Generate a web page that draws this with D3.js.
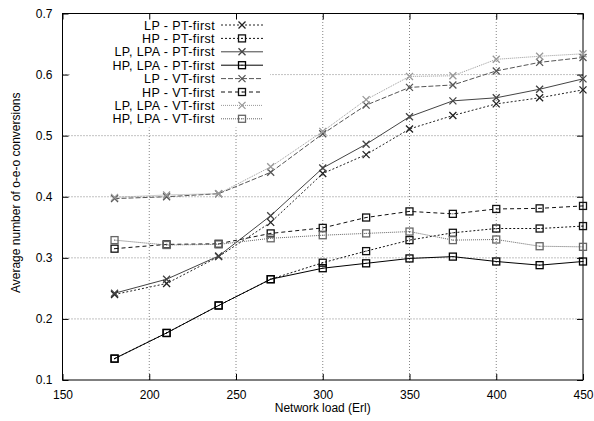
<!DOCTYPE html>
<html>
<head>
<meta charset="utf-8">
<script src="https://cdn.jsdelivr.net/npm/d3@7"></script>
<style>
  body { margin: 0; background: #fff; }
  svg { display: block; font-family: "Liberation Sans", Arial, sans-serif; }
</style>
</head>
<body>
<div id="chart"></div>
<script>
const loads = [180, 210, 240, 270, 300, 325, 350, 375, 400, 425, 450];

const lpPT = [0.240, 0.258, 0.302, 0.358, 0.438, 0.469, 0.511, 0.533, 0.552, 0.562, 0.575];
const hpPT = [0.135, 0.177, 0.222, 0.265, 0.292, 0.311, 0.329, 0.341, 0.348, 0.348, 0.352];
const lpLpaPT = [0.242, 0.265, 0.303, 0.369, 0.447, 0.486, 0.531, 0.557, 0.562, 0.576, 0.593];
const hpLpaPT = [0.135, 0.177, 0.222, 0.265, 0.283, 0.291, 0.299, 0.302, 0.294, 0.288, 0.294];
const lpVT = [0.397, 0.400, 0.405, 0.440, 0.503, 0.550, 0.579, 0.583, 0.606, 0.620, 0.628];
const hpVT = [0.315, 0.322, 0.323, 0.340, 0.349, 0.366, 0.376, 0.372, 0.380, 0.381, 0.385];
const lpLpaVT = [0.399, 0.403, 0.405, 0.449, 0.507, 0.559, 0.597, 0.598, 0.625, 0.630, 0.634];
const hpLpaVT = [0.329, 0.321, 0.322, 0.332, 0.337, 0.340, 0.343, 0.329, 0.330, 0.319, 0.318];

const xTicks = [150, 200, 250, 300, 350, 400, 450];
const yTicks = [0.1, 0.2, 0.3, 0.4, 0.5, 0.6, 0.7];

const series = [
  { name: "LP - PT-first", values: lpPT, marker: "x", color: "#222", dash: "2,2" },
  { name: "HP - PT-first", values: hpPT, marker: "sq", color: "#111", dash: "2,2" },
  { name: "LP, LPA - PT-first", values: lpLpaPT, marker: "x", color: "#444", dash: null },
  { name: "HP, LPA - PT-first", values: hpLpaPT, marker: "sq", color: "#000", dash: null },
  { name: "LP - VT-first", values: lpVT, marker: "x", color: "#555", dash: "5,2" },
  { name: "HP - VT-first", values: hpVT, marker: "sq", color: "#111", dash: "4,3" },
  { name: "LP, LPA - VT-first", values: lpLpaVT, marker: "x", color: "#999", dash: "1,1" },
  { name: "HP, LPA - VT-first", values: hpLpaVT, marker: "sq", color: "#666", dash: "1,1" }
];

const width = 594, height = 421;
const margin = { top: 13.5, right: 11, bottom: 41, left: 62.5 };

const svg = d3.select("#chart").append("svg")
    .attr("width", width)
    .attr("height", height);

const x = d3.scaleLinear().domain([150, 450]).range([margin.left, width - margin.right]);
const y = d3.scaleLinear().domain([0.1, 0.7]).range([height - margin.bottom, margin.top]);

// grid
const grid = svg.append("g")
    .attr("stroke", "#666")
    .attr("stroke-width", 0.8)
    .attr("stroke-dasharray", "1,2");
grid.selectAll("line.vx").data(xTicks.slice(1, -1)).enter().append("line")
    .attr("x1", d => x(d)).attr("x2", d => x(d))
    .attr("y1", y(0.1)).attr("y2", y(0.7));
grid.selectAll("line.hy").data(yTicks.slice(1, -1)).enter().append("line")
    .attr("x1", x(150)).attr("x2", x(450))
    .attr("y1", d => y(d)).attr("y2", d => y(d));

// legend box masks grid
svg.append("rect")
    .attr("x", 70).attr("y", margin.top + 1)
    .attr("width", 200).attr("height", 113)
    .attr("fill", "#fff");

// axes with inward ticks, mirrored
const fmtY = d3.format(".1f");
svg.append("g")
    .attr("transform", `translate(0,${y(0.1)})`)
    .call(d3.axisBottom(x).tickValues(xTicks).tickSize(-6).tickPadding(10))
    .call(g => g.select(".domain").remove());
svg.append("g")
    .attr("transform", `translate(0,${y(0.7)})`)
    .call(d3.axisTop(x).tickValues(xTicks).tickSize(-6).tickFormat(""))
    .call(g => g.select(".domain").remove());
svg.append("g")
    .attr("transform", `translate(${x(150)},0)`)
    .call(d3.axisLeft(y).tickValues(yTicks).tickSize(-6).tickPadding(10).tickFormat(fmtY))
    .call(g => g.select(".domain").remove());
svg.append("g")
    .attr("transform", `translate(${x(450)},0)`)
    .call(d3.axisRight(y).tickValues(yTicks).tickSize(-6).tickFormat(""))
    .call(g => g.select(".domain").remove());

svg.selectAll(".tick text")
    .attr("font-size", 12)
    .attr("font-family", "Liberation Sans, Arial, sans-serif")
    .attr("fill", "#000");
svg.selectAll(".tick line").attr("stroke", "#000");

svg.append("rect")
    .attr("x", x(150)).attr("y", y(0.7))
    .attr("width", x(450) - x(150)).attr("height", y(0.1) - y(0.7))
    .attr("fill", "none").attr("stroke", "#000").attr("stroke-width", 1);

// titles
svg.append("text")
    .attr("x", (x(150) + x(450)) / 2).attr("y", 412)
    .attr("text-anchor", "middle").attr("font-size", 12)
    .text("Network load (Erl)");
svg.append("text")
    .attr("transform", `translate(20,${(y(0.1) + y(0.7)) / 2 - 4}) rotate(-90)`)
    .attr("text-anchor", "middle").attr("font-size", 12)
    .text("Average number of o-e-o conversions");

function drawMarker(g, type, cx, cy, color) {
  const s = 3.5;
  if (type === "x") {
    g.append("path")
        .attr("d", `M${cx - s},${cy - s}L${cx + s},${cy + s}M${cx - s},${cy + s}L${cx + s},${cy - s}`)
        .attr("stroke", color).attr("stroke-width", 1.3).attr("fill", "none");
  } else {
    g.append("rect")
        .attr("x", cx - s).attr("y", cy - s).attr("width", 2 * s).attr("height", 2 * s)
        .attr("stroke", color).attr("stroke-width", 1.3).attr("fill", "none");
    g.append("rect")
        .attr("x", cx - 0.5).attr("y", cy - 0.5).attr("width", 1).attr("height", 1)
        .attr("fill", color);
  }
}

const line = d3.line().x(d => x(d[0])).y(d => y(d[1]));

series.forEach(s => {
  const pts = loads.map((l, i) => [l, s.values[i]]);
  const g = svg.append("g");
  g.append("path")
      .datum(pts)
      .attr("d", line)
      .attr("fill", "none")
      .attr("stroke", s.color)
      .attr("stroke-width", 1)
      .attr("stroke-dasharray", s.dash);
  pts.forEach(p => drawMarker(g, s.marker, x(p[0]), y(p[1]), s.color));
});

// legend
const legend = svg.append("g");
series.forEach((s, i) => {
  const ly = 25 + i * 13.4;
  legend.append("text")
      .attr("x", 215).attr("y", ly + 4.5)
      .attr("text-anchor", "end").attr("font-size", 12.5)
      .attr("letter-spacing", 0.4)
      .text(s.name);
  legend.append("line")
      .attr("x1", 221).attr("x2", 263)
      .attr("y1", ly).attr("y2", ly)
      .attr("stroke", s.color).attr("stroke-width", 1)
      .attr("stroke-dasharray", s.dash);
  drawMarker(legend, s.marker, 242, ly, s.color);
});
</script>
</body>
</html>
